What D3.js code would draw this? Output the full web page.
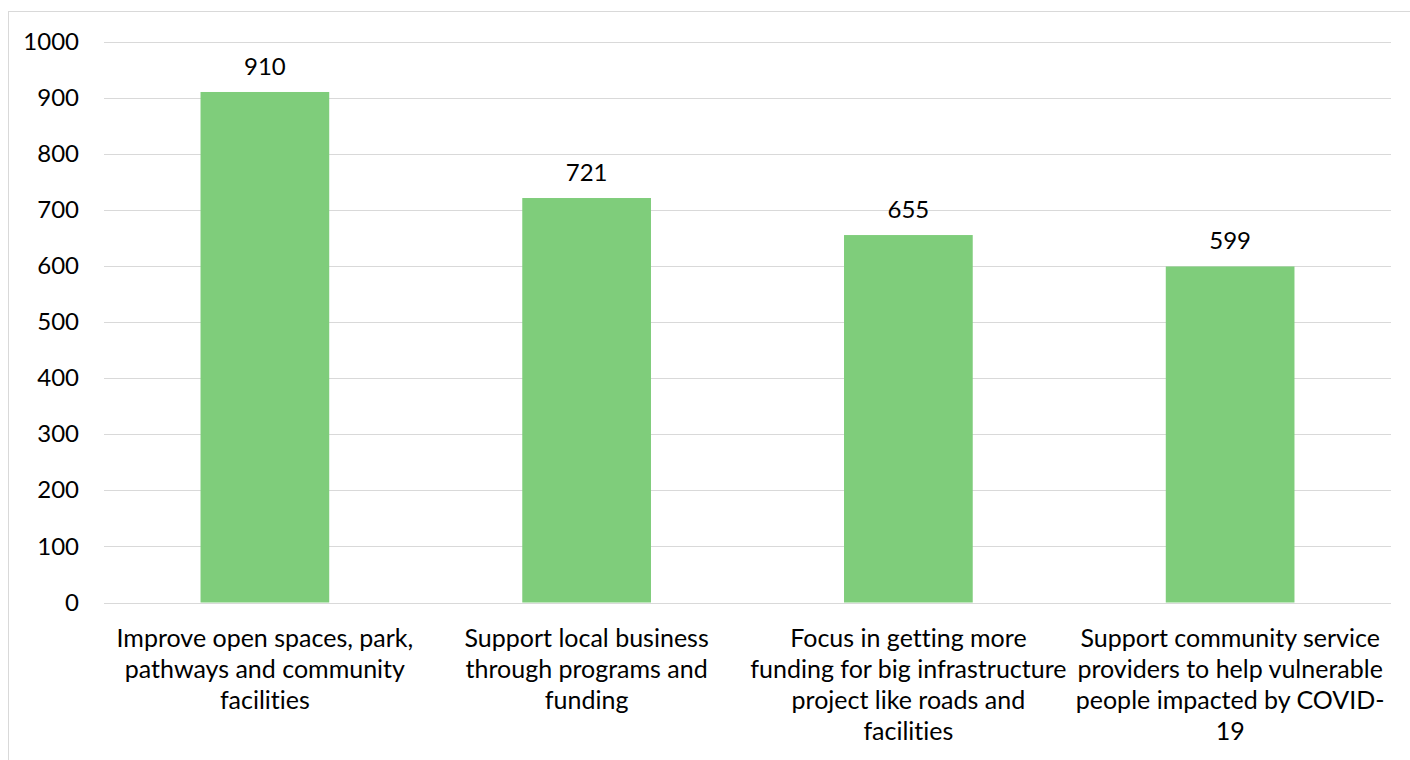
<!DOCTYPE html>
<html>
<head>
<meta charset="utf-8">
<script src="https://cdn.jsdelivr.net/npm/d3@7"></script>
<style>
  html, body { margin: 0; padding: 0; background: #fff; }
  svg { display: block; font-family: Lato, "Open Sans", sans-serif; font-variant-ligatures: none; }
</style>
</head>
<body>
<svg id="chart" width="1410" height="760"></svg>
<script>
// Survey priorities: number of responses per category
const categories = [
  "Improve open spaces, park, pathways and community facilities",
  "Support local business through programs and funding",
  "Focus in getting more funding for big infrastructure project like roads and facilities",
  "Support community service providers to help vulnerable people impacted by COVID-19"
];
// Wrapped label lines for each category
const categoryLines = [
  ["Improve open spaces, park,", "pathways and community", "facilities"],
  ["Support local business", "through programs and", "funding"],
  ["Focus in getting more", "funding for big infrastructure", "project like roads and", "facilities"],
  ["Support community service", "providers to help vulnerable", "people impacted by COVID-", "19"]
];
const values = [910, 721, 655, 599];
const yTicks = [0, 100, 200, 300, 400, 500, 600, 700, 800, 900, 1000];

const FONT = 24;
const svg = d3.select("#chart");
const margin = { left: 104, right: 1391, top: 41.5, bottom: 602.5 };

// Outer chart frame (top and left edges visible)
svg.append("rect")
  .attr("x", 8.5).attr("y", 11.5)
  .attr("width", 1420).attr("height", 780)
  .attr("fill", "none")
  .attr("stroke", "#d9d9d9")
  .attr("stroke-width", 1);

const x = d3.scaleBand()
  .domain(categories)
  .range([margin.left, margin.right])
  .paddingInner(0.6)
  .paddingOuter(0.3);

const y = d3.scaleLinear()
  .domain([0, 1000])
  .range([margin.bottom, margin.top]);

// Horizontal gridlines
svg.append("g")
  .selectAll("line")
  .data(yTicks)
  .join("line")
  .attr("x1", margin.left)
  .attr("x2", margin.right)
  .attr("y1", d => Math.round(y(d)) + 0.5)
  .attr("y2", d => Math.round(y(d)) + 0.5)
  .attr("stroke", "#d9d9d9")
  .attr("stroke-width", 1);

// Y axis tick labels
const yAxis = d3.axisLeft(y)
  .tickValues(yTicks)
  .tickFormat(d3.format("d"))
  .tickSize(0)
  .tickPadding(0);
const yg = svg.append("g")
  .attr("transform", "translate(79,0)")
  .call(yAxis);
yg.select(".domain").remove();
yg.selectAll("text")
  .attr("font-size", FONT)
  .attr("fill", "#000")
  .attr("font-family", "Lato, 'Open Sans', sans-serif");

// Bars
svg.append("g")
  .selectAll("rect")
  .data(values)
  .join("rect")
  .attr("x", (d, i) => x(categories[i]))
  .attr("width", x.bandwidth())
  .attr("y", d => y(d))
  .attr("height", d => y(0) - y(d))
  .attr("fill", "#7fcd7b");

// Value labels above bars
svg.append("g")
  .selectAll("text")
  .data(values)
  .join("text")
  .attr("x", (d, i) => x(categories[i]) + x.bandwidth() / 2)
  .attr("y", d => y(d) - 17)
  .attr("text-anchor", "middle")
  .attr("font-size", FONT)
  .attr("fill", "#000")
  .text(d => d);

// Category labels under the axis
const lab = svg.append("g")
  .selectAll("text")
  .data(categories)
  .join("text")
  .attr("text-anchor", "middle")
  .attr("font-size", 25)
  .attr("fill", "#000")
  .attr("transform", d => `translate(${x(d) + x.bandwidth() / 2},647)`);
lab.each(function (d, i) {
  d3.select(this).selectAll("tspan")
    .data(categoryLines[i])
    .join("tspan")
    .attr("x", 0)
    .attr("y", (t, j) => j * 31)
    .text(t => t);
});
</script>
</body>
</html>
